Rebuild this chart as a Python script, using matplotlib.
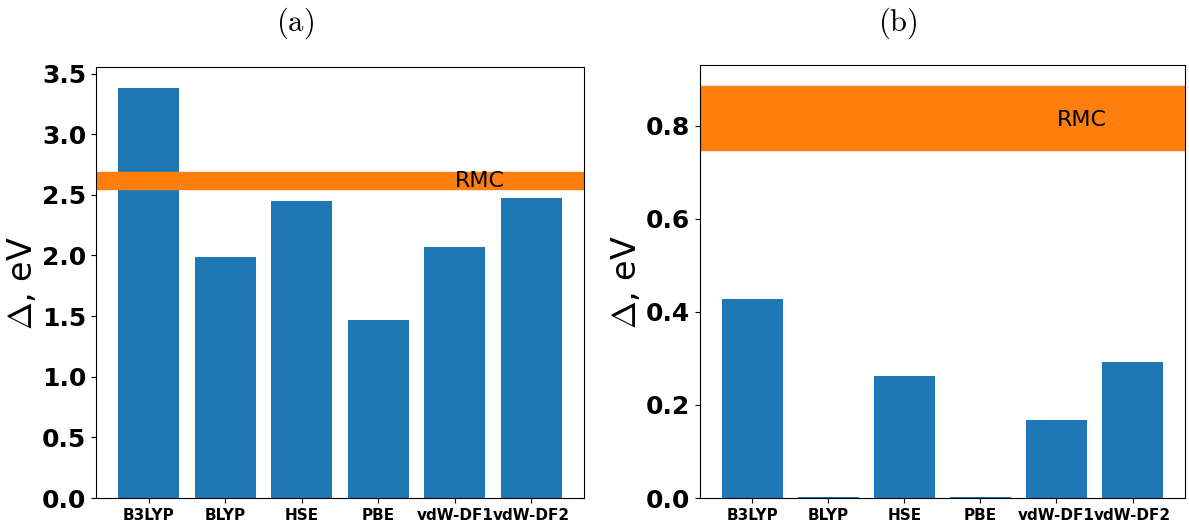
import numpy as np
import matplotlib.pyplot as plt

plt.rcParams['mathtext.fontset'] = 'cm'

methods = ['B3LYP', 'BLYP', 'HSE', 'PBE', 'vdW-DF1', 'vdW-DF2']
gap_a = [3.385, 1.99, 2.45, 1.47, 2.07, 2.47]
gap_b = [0.427, 0.002, 0.262, 0.002, 0.167, 0.292]
rmc_a = (2.55, 2.69)
rmc_b = (0.747, 0.886)
rmc_txt_a = (4.0, 2.565)
rmc_txt_b = (4.0, 0.80)

fig = plt.figure(figsize=(11.89, 5.21), dpi=100)
ax1 = fig.add_axes([0.0807, 0.0441, 0.4105, 0.8273])
ax2 = fig.add_axes([0.5887, 0.0441, 0.4079, 0.8311])

x = np.arange(len(methods))
for ax, vals, band, txt in zip([ax1, ax2], [gap_a, gap_b], [rmc_a, rmc_b],
                               [rmc_txt_a, rmc_txt_b]):
    ax.bar(x, vals, width=0.8, color='#1f77b4')
    ax.axhspan(band[0], band[1], color='#ff7f0e')
    ax.text(txt[0], txt[1], 'RMC', fontsize=16)
    ax.set_xticks(x)
    ax.set_xticklabels(methods, fontsize=11, fontweight='bold')
    ax.set_ylabel(r'$\Delta$, eV', fontsize=24, labelpad=2)

ax1.set_title(r'$\mathrm{(a)}$', fontsize=22, pad=26, x=0.408)
ax2.set_title(r'$\mathrm{(b)}$', fontsize=22, pad=24.5, x=0.408)

ax1.set_yticks(np.arange(0, 3.51, 0.5))
ax2.set_yticks(np.arange(0, 0.81, 0.2))
for ax in [ax1, ax2]:
    for lab in ax.get_yticklabels():
        lab.set_fontweight('bold')
        lab.set_fontsize(18)

fig.savefig('out.png', dpi=100)
